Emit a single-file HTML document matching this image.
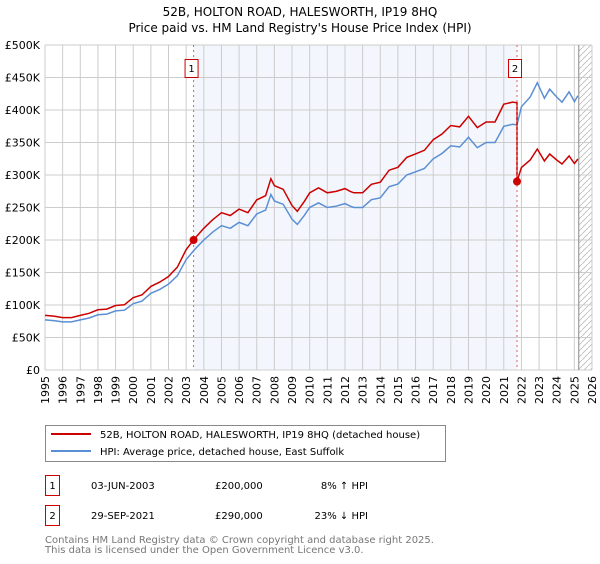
<!DOCTYPE html>
<html><head><meta charset="utf-8"><style>
body{margin:0;background:#fff;font-family:"DejaVu Sans","Liberation Sans",sans-serif;}
svg text{font-family:"DejaVu Sans","Liberation Sans",sans-serif;}
</style></head><body>
<svg id="c" width="600" height="560" xmlns="http://www.w3.org/2000/svg">
<text x="300" y="16" text-anchor="middle" font-size="12">52B, HOLTON ROAD, HALESWORTH, IP19 8HQ</text>
<text x="300" y="32" text-anchor="middle" font-size="12">Price paid vs. HM Land Registry's House Price Index (HPI)</text>
<g id="plot"></g>
<rect x="45.5" y="425.5" width="400" height="36" fill="#fff" stroke="#888"/>
<line x1="51" y1="434" x2="91" y2="434" stroke="#cc0000" stroke-width="2"/>
<text x="100" y="438" font-size="10">52B, HOLTON ROAD, HALESWORTH, IP19 8HQ (detached house)</text>
<line x1="51" y1="451" x2="91" y2="451" stroke="#5b8fd4" stroke-width="2"/>
<text x="100" y="455" font-size="10">HPI: Average price, detached house, East Suffolk</text>
<g font-size="10">
<rect x="45.5" y="475.5" width="14" height="20" fill="none" stroke="#cc0000"/>
<text x="52.5" y="489" text-anchor="middle">1</text>
<text x="91" y="489">03-JUN-2003</text><text x="215" y="489">£200,000</text><text x="368" y="489" text-anchor="end">8% ↑ HPI</text>
<rect x="45.5" y="505.5" width="14" height="20" fill="none" stroke="#cc0000"/>
<text x="52.5" y="519" text-anchor="middle">2</text>
<text x="91" y="519">29-SEP-2021</text><text x="215" y="519">£290,000</text><text x="368" y="519" text-anchor="end">23% ↓ HPI</text>
</g>
<text x="45" y="543" font-size="10" fill="#777">Contains HM Land Registry data © Crown copyright and database right 2025.</text>
<text x="45" y="553" font-size="10" fill="#777">This data is licensed under the Open Government Licence v3.0.</text>
</svg>
<script>
const hpiYears=[1995,1995.5,1996,1996.5,1997,1997.5,1998,1998.5,1999,1999.5,2000,2000.5,2001,2001.5,2002,2002.5,2003,2003.5,2004,2004.5,2005,2005.5,2006,2006.5,2007,2007.5,2007.8,2008,2008.5,2009,2009.3,2009.7,2010,2010.5,2011,2011.5,2012,2012.3,2012.5,2013,2013.5,2014,2014.5,2015,2015.5,2016,2016.5,2017,2017.5,2018,2018.5,2019,2019.5,2020,2020.5,2021,2021.5,2021.75,2022,2022.5,2022.9,2023.3,2023.6,2024,2024.3,2024.7,2025,2025.2];
const hpiValues=[77,76,74,74,77,80,85,86,91,92,102,106,118,124,132,145,170,186,200,212,222,218,227,222,240,246,270,260,255,232,224,238,250,257,250,252,256,252,250,250,262,265,282,286,300,305,310,325,333,345,343,358,342,350,350,375,378,377,405,420,442,418,432,420,412,428,413,422];
const saleYears=[2003.42,2021.75];
const salePrices=[200,290];
const yTicks=[0,50,100,150,200,250,300,350,400,450,500];
const yTickLabels=["£0","£50K","£100K","£150K","£200K","£250K","£300K","£350K","£400K","£450K","£500K"];
const xTicks=[1995,1996,1997,1998,1999,2000,2001,2002,2003,2004,2005,2006,2007,2008,2009,2010,2011,2012,2013,2014,2015,2016,2017,2018,2019,2020,2021,2022,2023,2024,2025,2026];
const L=45,R=592,T=45,B=370,x0=1995,x1=2026;
const X=v=>L+(v-x0)/(x1-x0)*(R-L);
const Y=v=>B-v/500*(B-T);
const NS="http://www.w3.org/2000/svg";
const g=document.getElementById('plot');
function mk(t,a){const e=document.createElementNS(NS,t);for(const k in a)e.setAttribute(k,a[k]);g.appendChild(e);return e;}
let e=mk('rect',{x:X(saleYears[0]),y:T,width:X(saleYears[1])-X(saleYears[0]),height:B-T,fill:'#eef3fc',opacity:0.7});


const defs=document.createElementNS(NS,'defs');defs.innerHTML='<pattern id="h" width="6" height="6" patternUnits="userSpaceOnUse"><path d="M0,6 L6,0" stroke="#bbb" stroke-width="0.8"/></pattern>';g.appendChild(defs);
e=mk('rect',{x:X(2025.25),y:T,width:R-X(2025.25),height:B-T,fill:'url(#h)'});


xTicks.forEach(t=>{const l=mk('line',{x1:X(t),x2:X(t),y1:T,y2:B,stroke:'#ccc'});


const tx=mk('text',{x:0,y:0,'font-size':11,'text-anchor':'end',transform:`translate(${X(t)+4},${B+6}) rotate(-90)`});tx.textContent=t;

});
yTicks.forEach((t,i)=>{const l=mk('line',{x1:L,x2:R,y1:Y(t),y2:Y(t),stroke:'#ccc'});


const tx=mk('text',{x:L-5,y:Y(t)+4,'font-size':11,'text-anchor':'end'});tx.textContent=yTickLabels[i];

});
e=mk('line',{x1:X(2025.25),x2:X(2025.25),y1:T,y2:B,stroke:'#888'});


function interp(y){for(let i=0;i<hpiYears.length-1;i++){if(y>=hpiYears[i]&&y<=hpiYears[i+1]){const f=(y-hpiYears[i])/(hpiYears[i+1]-hpiYears[i]);return hpiValues[i]+f*(hpiValues[i+1]-hpiValues[i]);}}return hpiValues[hpiValues.length-1];}
const f1=salePrices[0]/interp(saleYears[0]), f2=salePrices[1]/interp(saleYears[1]);
e=mk('path',{d:hpiYears.map((y,i)=>(i?'L':'M')+X(y).toFixed(1)+','+Y(hpiValues[i]).toFixed(1)).join(''),fill:'none',stroke:'#5b8fd4','stroke-width':1.5});


let pts=[];hpiYears.forEach((y,i)=>{if(y<saleYears[1])pts.push([y,hpiValues[i]*f1]);});
pts.push([saleYears[1],interp(saleYears[1])*f1]);pts.push([saleYears[1],salePrices[1]]);
hpiYears.forEach((y,i)=>{if(y>saleYears[1])pts.push([y,hpiValues[i]*f2]);});
e=mk('path',{d:pts.map((p,i)=>(i?'L':'M')+X(p[0]).toFixed(1)+','+Y(p[1]).toFixed(1)).join(''),fill:'none',stroke:'#cc0000','stroke-width':1.5});


saleYears.forEach((y,i)=>{
const l=mk('line',{x1:X(y),x2:X(y),y1:T,y2:B,stroke:'#e06060','stroke-dasharray':'2,3'});


const c=mk('circle',{cx:X(y),cy:Y(salePrices[i]),r:4,fill:'#cc0000'});


const b=mk('rect',{x:X(y)-8.5,y:59.5,width:13,height:18,fill:'#fff',stroke:'#cc0000'});


const t=mk('text',{x:X(y)-2,y:72,'font-size':10,'text-anchor':'middle'});t.textContent=String(i+1);

});
</script>
</body></html>
